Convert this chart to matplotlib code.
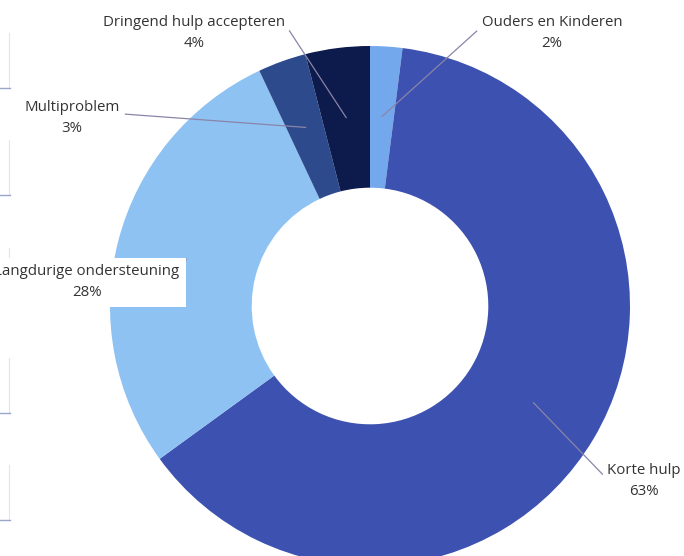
import numpy as np
import matplotlib.pyplot as plt

# aandeel per zorgvorm (procent), met de klok mee vanaf boven
labels = ['Ouders en Kinderen', 'Korte hulp', 'Langdurige ondersteuning',
          'Multiproblem', 'Dringend hulp accepteren']
shares = [2, 63, 28, 3, 4]
colors = ['#74a8ec', '#3d51b0', '#8ec2f3', '#2d4b8c', '#0c1a4c']

# plaats van de labels (pixels, y omhoog) en waar de lijn op de tekst aansluit
label_pos = [(552, 523), (644, 75), (87, 274), (72, 438), (194, 523)]
label_rel = [(0.0, 0.68), (0.0, 0.55), (1.0, 0.5), (1.0, 0.62), (1.0, 0.75)]

plt.rcParams['font.family'] = ['Open Sans', 'DejaVu Sans']

fig = plt.figure(figsize=(6.84, 5.56), dpi=100)
ax = fig.add_axes([0, 0, 1, 1])

cx, cy, R = 370, 250, 260
wedges, _ = ax.pie(shares, colors=colors, startangle=90, counterclock=False,
                   radius=R, center=(cx, cy), frame=True,
                   wedgeprops=dict(width=R * 0.545, linewidth=0))
ax.set_xlim(0, 684)
ax.set_ylim(0, 556)
ax.set_aspect('equal')
ax.axis('off')

for w, lab, val, pos, rel in zip(wedges, labels, shares, label_pos, label_rel):
    mid = np.deg2rad((w.theta1 + w.theta2) / 2)
    px = cx + 0.73 * R * np.cos(mid)
    py = cy + 0.73 * R * np.sin(mid)
    box = None
    if lab.startswith('Langdurige'):
        box = dict(boxstyle='square,pad=0.45', fc='white', ec='none')
    ax.annotate(f'{lab}\n{val}%', xy=(px, py), xytext=pos,
                ha='center', va='center', fontsize=10.8, color='#333333',
                linespacing=1.5, bbox=box, zorder=5,
                arrowprops=dict(arrowstyle='-', color='#8a84a8', lw=0.9,
                                relpos=rel, shrinkA=2, shrinkB=0))

# vage tabelranden langs de linkerkant
for top, bottom in [(33, 88), (140, 195), (248, 303), (358, 413), (465, 520)]:
    ax.plot([9, 9], [556 - top, 556 - bottom], color='#e2e5ee', lw=0.8)
    ax.plot([0, 10], [556 - bottom, 556 - bottom], color='#9aa6cc', lw=1.0)

fig.savefig('out.png', dpi=100)
